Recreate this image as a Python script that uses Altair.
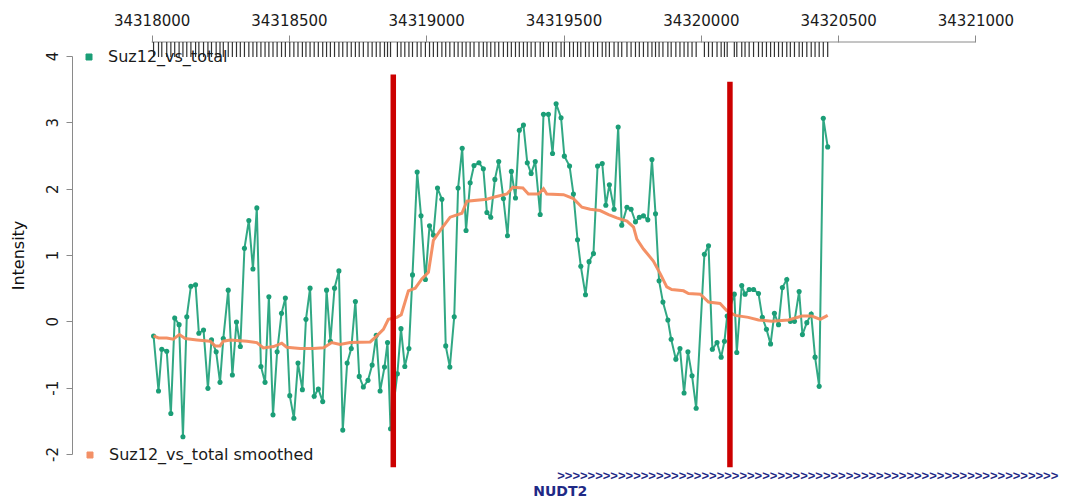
import altair as alt
import pandas as pd

# ---------------- data ----------------
probe_pos = [
    34318007, 34318025, 34318037, 34318055, 34318070, 34318084, 34318100, 34318114, 34318128, 34318143,
    34318160, 34318172, 34318189, 34318205, 34318218, 34318235, 34318249, 34318261, 34318279, 34318294,
    34318309, 34318323, 34318338, 34318354, 34318369, 34318383, 34318398, 34318413, 34318427, 34318442,
    34318457, 34318473, 34318487, 34318503, 34318518, 34318533, 34318549, 34318562, 34318577, 34318592,
    34318607, 34318623, 34318637, 34318651, 34318666, 34318682, 34318696, 34318712, 34318727, 34318742,
    34318756, 34318771, 34318788, 34318803, 34318818, 34318832, 34318848, 34318859, 34318870, 34318895,
    34318908, 34318922, 34318937, 34318950, 34318967, 34318981, 34318997, 34319012, 34319026, 34319041,
    34319057, 34319071, 34319086, 34319102, 34319116, 34319131, 34319145, 34319160, 34319174, 34319192,
    34319208, 34319221, 34319235, 34319250, 34319264, 34319281, 34319296, 34319310, 34319325, 34319339,
    34319354, 34319368, 34319382, 34319397, 34319415, 34319427, 34319445, 34319460, 34319473, 34319491,
    34319503, 34319522, 34319536, 34319551, 34319563, 34319580, 34319593, 34319609, 34319624, 34319641,
    34319654, 34319667, 34319684, 34319699, 34319712, 34319731, 34319746, 34319762, 34319776, 34319791,
    34319807, 34319822, 34319835, 34319848, 34319862, 34319880, 34319892, 34319909, 34319924, 34319939,
    34319953, 34319968, 34319983, 34320013, 34320028, 34320042, 34320059, 34320074, 34320086, 34320096,
    34320122, 34320131, 34320149, 34320161, 34320176, 34320192, 34320210, 34320224, 34320239, 34320254,
    34320268, 34320283, 34320297, 34320313, 34320326, 34320341, 34320358, 34320370, 34320386, 34320402,
    34320416, 34320431, 34320446, 34320462,
]
intensity = [
    -0.22, -1.05, -0.42, -0.45, -1.39, 0.05, -0.05, -1.74, 0.07, 0.53,
    0.55, -0.18, -0.13, -1.01, -0.28, -0.46, -0.92, -0.26, 0.47, -0.81,
    -0.01, -0.38, 1.10, 1.52, 0.79, 1.71, -0.68, -0.92, 0.37, -1.41,
    -0.46, 0.12, 0.35, -1.12, -1.46, -0.63, -1.03, 0.03, 0.50, -1.13,
    -1.02, -1.21, 0.47, -0.30, 0.50, 0.76, -1.64, -0.63, -0.41, 0.30,
    -0.83, -0.99, -0.89, -0.66, -0.21, -1.05, -0.69, -0.32, -1.62, -0.79,
    -0.11, -0.68, -0.41, 0.70, 2.25, 1.59, 0.63, 1.44, 1.30, 2.01,
    1.84, -0.37, -0.69, 0.07, 2.01, 2.61, 1.37, 2.09, 2.35, 2.39,
    2.30, 1.64, 1.57, 2.14, 2.41, 1.85, 1.29, 2.26, 1.86, 2.88,
    2.96, 2.39, 2.23, 2.41, 1.61, 3.12, 3.12, 2.53, 3.28, 3.07,
    2.49, 2.34, 1.92, 1.23, 0.83, 0.40, 0.90, 1.02, 2.34, 2.38,
    1.75, 2.06, 1.69, 2.93, 1.45, 1.72, 1.69, 1.50, 1.57, 1.59,
    1.53, 2.44, 1.62, 0.61, 0.29, 0.02, -0.27, -0.57, -0.41, -1.08,
    -0.46, -0.82, -1.31, 1.01, 1.14, -0.42, -0.32, -0.54, -0.30, 0.08,
    0.41, -0.47, 0.54, 0.41, 0.48, 0.48, 0.42, 0.06, -0.12, -0.34,
    0.12, -0.05, 0.51, 0.63, 0.00, 0.00, 0.45, -0.20, -0.02, 0.11,
    -0.54, -0.98, 3.06, 2.63,
]
smooth_pos = [
    34318007, 34318025, 34318055, 34318079, 34318101, 34318122, 34318165, 34318213, 34318231, 34318249,
    34318261, 34318286, 34318347, 34318383, 34318407, 34318444, 34318474, 34318492, 34318541, 34318589,
    34318626, 34318656, 34318686, 34318723, 34318796, 34318820, 34318844, 34318862, 34318893, 34318909,
    34318935, 34318960, 34318984, 34319008, 34319026, 34319051, 34319087, 34319130, 34319148, 34319221,
    34319245, 34319294, 34319315, 34319352, 34319372, 34319409, 34319427, 34319439, 34319500, 34319536,
    34319567, 34319597, 34319633, 34319664, 34319694, 34319731, 34319755, 34319767, 34319791, 34319827,
    34319852, 34319876, 34319894, 34319937, 34319955, 34319998, 34320028, 34320070, 34320095, 34320125,
    34320173, 34320210, 34320259, 34320319, 34320368, 34320404, 34320435, 34320462,
]
smooth_val = [
    -0.22, -0.25, -0.25, -0.27, -0.20, -0.26, -0.28, -0.30, -0.37, -0.37,
    -0.30, -0.28, -0.30, -0.32, -0.40, -0.38, -0.33, -0.39, -0.41, -0.41,
    -0.40, -0.32, -0.35, -0.32, -0.31, -0.22, -0.12, 0.03, 0.06, 0.10,
    0.46, 0.50, 0.64, 0.74, 1.22, 1.37, 1.57, 1.63, 1.81, 1.84,
    1.87, 1.92, 2.02, 2.01, 1.92, 1.92, 2.00, 1.92, 1.91, 1.85,
    1.72, 1.69, 1.67, 1.61, 1.56, 1.51, 1.42, 1.24, 1.09, 0.91,
    0.72, 0.52, 0.48, 0.46, 0.42, 0.41, 0.29, 0.27, 0.16, 0.09,
    0.06, 0.02, 0.00, 0.02, 0.08, 0.08, 0.03, 0.09,
]
x_ticks = [34318000, 34318500, 34319000, 34319500, 34320000, 34320500, 34321000]
y_ticks = [-2, -1, 0, 1, 2, 3, 4]
x_domain = [34317710, 34321308]
y_domain = [-2, 4]
series_names = ["Suz12_vs_total", "Suz12_vs_total smoothed"]
marker_pos = [34318880, 34320106]
marker_top = [3.72, 3.61]
marker_bottom = [-2.2, -2.2]
gene_name = ["NUDT2"]
gene_start = [34319477]
gene_arrow_count = [66]

# ---------------- styles ----------------
W, H = 988, 398
GREEN = "#1B9E77"
ORANGE = "#F38B5E"
RED = "#CC0000"
NAVY = "#1F2A86"
AXIS_GRAY = "#8a8a8a"
FONT = "DejaVu Sans"

raw = pd.DataFrame({"pos": probe_pos, "value": intensity, "series": series_names[0]})
smooth = pd.DataFrame({"pos": smooth_pos, "value": smooth_val, "series": series_names[1]})
markers = pd.DataFrame({"pos": marker_pos, "top": marker_top, "bottom": marker_bottom})
axis_line = pd.DataFrame({"start": [x_ticks[0]], "end": [x_ticks[-1]]})
genes = pd.DataFrame({"start": gene_start, "name": gene_name,
                      "arrows": [">" * n for n in gene_arrow_count]})

x_scale = alt.Scale(domain=x_domain, nice=False, zero=False)
y_scale = alt.Scale(domain=y_domain, nice=False, zero=False)
x_axis = alt.Axis(orient="top", values=x_ticks, labelExpr="'' + datum.value",
                  domain=False, grid=False, offset=14, tickSize=7, tickColor=AXIS_GRAY,
                  labelPadding=7, labelFont=FONT, labelFontSize=15, labelColor="#1a1a1a",
                  title=None)
y_axis = alt.Axis(orient="left", values=y_ticks, labelExpr="'' + datum.value",
                  labelAngle=270, grid=False, tickSize=6, tickColor=AXIS_GRAY,
                  domainColor=AXIS_GRAY, labelPadding=6, labelFont=FONT,
                  labelFontSize=15, labelColor="#1a1a1a",
                  title="Intensity", titleFont=FONT, titleFontSize=16,
                  titleFontWeight="normal", titleColor="#111111", titleAngle=270,
                  titleX=-54, titleY=H / 2, titleAlign="center", titleBaseline="middle")


def xq(field):
    return alt.X(field, type="quantitative", scale=x_scale, axis=x_axis)


def yq(field):
    return alt.Y(field, type="quantitative", scale=y_scale, axis=y_axis)


def legend(x, y, fill):
    return alt.Legend(orient="none", legendX=x, legendY=y, title=None,
                      symbolType="square", symbolSize=36, padding=0,
                      symbolFillColor=fill, symbolStrokeColor=fill, symbolStrokeWidth=1,
                      labelFont=FONT, labelFontSize=16, labelColor="#1a1a1a",
                      labelOffset=11, labelLimit=0)


top_line = alt.Chart(axis_line).mark_rule(color=AXIS_GRAY, strokeWidth=1).encode(
    x=xq("start"), x2="end", y=alt.value(-14))

rug = alt.Chart(raw).mark_rule(color="#333333", strokeWidth=1.2).encode(
    x=xq("pos"), y=alt.value(-14), y2=alt.value(1))

raw_line = alt.Chart(raw).mark_line(color=GREEN, strokeWidth=2, opacity=0.9).encode(
    x=xq("pos"), y=yq("value"))

raw_pts = alt.Chart(raw).mark_point(filled=True, size=26, opacity=1).encode(
    x=xq("pos"), y=yq("value"),
    color=alt.Color("series:N", scale=alt.Scale(domain=[series_names[0]], range=[GREEN]),
                    legend=legend(9, -7, GREEN)))

smooth_line = alt.Chart(smooth).mark_line(strokeWidth=3, opacity=0.95).encode(
    x=xq("pos"), y=yq("value"),
    color=alt.Color("series:N", scale=alt.Scale(domain=[series_names[1]], range=[ORANGE]),
                    legend=legend(10, 391, ORANGE)))

marker_rules = alt.Chart(markers).mark_rule(color=RED, strokeWidth=5.5).encode(
    x=xq("pos"), y=yq("top"), y2="bottom")

gene_arrows = alt.Chart(genes).mark_text(align="left", baseline="alphabetic",
                                         font="Liberation Sans", fontWeight="bold",
                                         fontSize=13, color=NAVY).encode(
    x=xq("start"), y=alt.value(424), text="arrows:N")

gene_label = alt.Chart(genes).mark_text(align="left", baseline="alphabetic", font=FONT,
                                        fontWeight="bold", fontSize=14, color=NAVY, dx=-24).encode(
    x=xq("start"), y=alt.value(440), text="name:N")

chart = alt.layer(
    top_line, rug, raw_line, raw_pts, smooth_line, marker_rules, gene_arrows, gene_label
).resolve_scale(color="independent").properties(
    width=W, height=H,
    autosize=alt.AutoSizeParams(type="none"),
    padding={"left": 64, "top": 48, "right": 0, "bottom": 46},
    background="white",
).configure_view(stroke="transparent")

chart.save("out.html", embed_options={"renderer": "svg", "actions": False})
